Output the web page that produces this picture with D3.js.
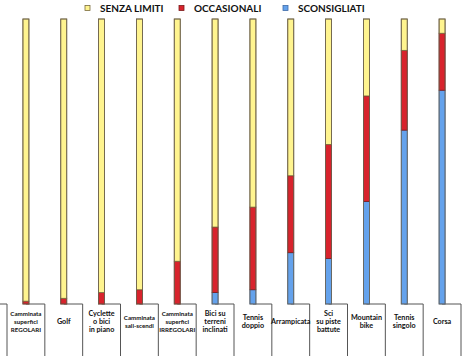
<!DOCTYPE html>
<html><head><meta charset="utf-8">
<script src="https://cdn.jsdelivr.net/npm/d3@7"></script>
<style>body{margin:0;background:#fff}svg{display:block}</style>
</head><body>
<svg id="c" width="465" height="360"></svg>
<script>
const categories = ["Camminata superfici REGOLARI","Golf","Cyclette o bici in piano","Camminata sali-scendi","Camminata superfici IRREGOLARI","Bici su terreni inclinati","Tennis doppio","Arrampicata","Sci su piste battute","Mountain bike","Tennis singolo","Corsa"];
const labelLines = [["Camminata","superfici","REGOLARI"],["Golf"],["Cyclette","o bici","in piano"],["Camminata","sali-scendi"],["Camminata","superfici","IRREGOLARI"],["Bici su","terreni","inclinati"],["Tennis","doppio"],["Arrampicata"],["Sci","su piste","battute"],["Mountain","bike"],["Tennis","singolo"],["Corsa"]];
const senzaLimiti  = [99, 98, 96, 95, 85, 73, 66, 55, 44, 27, 11, 5];
const occasionali  = [1, 2, 4, 5, 15, 23, 29, 27, 40, 37, 28, 20];
const sconsigliati = [0, 0, 0, 0, 0, 4, 5, 18, 16, 36, 61, 75];
const seriesNames = ["SENZA LIMITI","OCCASIONALI","SCONSIGLIATI"];
const seriesKeys = ["sconsigliati","occasionali","senza"];
const colors = {senza:"#fff48f", occasionali:"#d8232c", sconsigliati:"#64a2ec"};
const strokes = {senza:"#7a6b3c", occasionali:"#7a1a1a", sconsigliati:"#3d6aa8"};

const svg = d3.select("#c");
const rows = categories.map((c,i)=>({cat:c, senza:senzaLimiti[i], occasionali:occasionali[i], sconsigliati:sconsigliati[i]}));
const x = d3.scaleBand().domain(categories).range([7,461]).padding(0);
const y = d3.scaleLinear().domain([0,100]).range([304,19]);
const barW = 6;
const stack = d3.stack().keys(seriesKeys)(rows);

// bottom bracket lines
const base = y(0), bottom = 356;
svg.append("path").attr("d",`M0,${base}H${x.range()[0]}V${bottom}`).attr("fill","none").attr("stroke","#555").attr("stroke-width",1);
svg.selectAll("path.br").data(categories).join("path").attr("class","br")
  .attr("d",d=>`M${x(d)+x.bandwidth()/2},${base}H${x(d)+x.bandwidth()}V${bottom}`)
  .attr("fill","none").attr("stroke","#555").attr("stroke-width",1);

// bars
stack.forEach(s=>{
  svg.append("g").selectAll("rect").data(s.filter(d=>d[1]-d[0]>0)).join("rect")
    .attr("x",d=>x(d.data.cat)+x.bandwidth()/2-barW/2)
    .attr("width",barW)
    .attr("y",d=>y(d[1]))
    .attr("height",d=>y(d[0])-y(d[1]))
    .attr("fill",colors[s.key])
    .attr("stroke",strokes[s.key]).attr("stroke-width",0.8);
});
// outline
svg.append("g").selectAll("rect").data(rows).join("rect")
  .attr("x",d=>x(d.cat)+x.bandwidth()/2-barW/2).attr("width",barW)
  .attr("y",y(100)).attr("height",y(0)-y(100))
  .attr("fill","none").attr("stroke","#6e6450").attr("stroke-width",0.8);

// labels
const lg = svg.append("g").attr("font-family","Lato, 'Open Sans', sans-serif").attr("font-weight","bold").attr("fill","#111").attr("text-anchor","middle");
categories.forEach((c,i)=>{
  const lines = labelLines[i];
  const small = c.startsWith("Camminata");
  const fs = small ? 6.2 : 7.2;
  const lh = 8.4;
  const y0 = 324 - (lines.length-1)*lh/2;
  lines.forEach((l,j)=>lg.append("text").attr("font-size",fs)
    .attr("x",x(c)+x.bandwidth()/2).attr("y",y0+j*lh).text(l));
});

// legend
const legendX = [85,179,283];
const legKeys = ["senza","occasionali","sconsigliati"];
const leg = svg.append("g");
seriesNames.forEach((n,i)=>{
  leg.append("rect").attr("x",legendX[i]).attr("y",5.5).attr("width",5).attr("height",5)
    .attr("fill",colors[legKeys[i]]).attr("stroke",strokes[legKeys[i]]).attr("stroke-width",0.8);
  leg.append("text").attr("x",legendX[i]+15).attr("y",11.8).attr("font-family","Lato, 'Open Sans', sans-serif")
    .attr("font-weight","bold").attr("font-size",10).attr("fill","#111").text(n);
});
</script>
</body></html>
